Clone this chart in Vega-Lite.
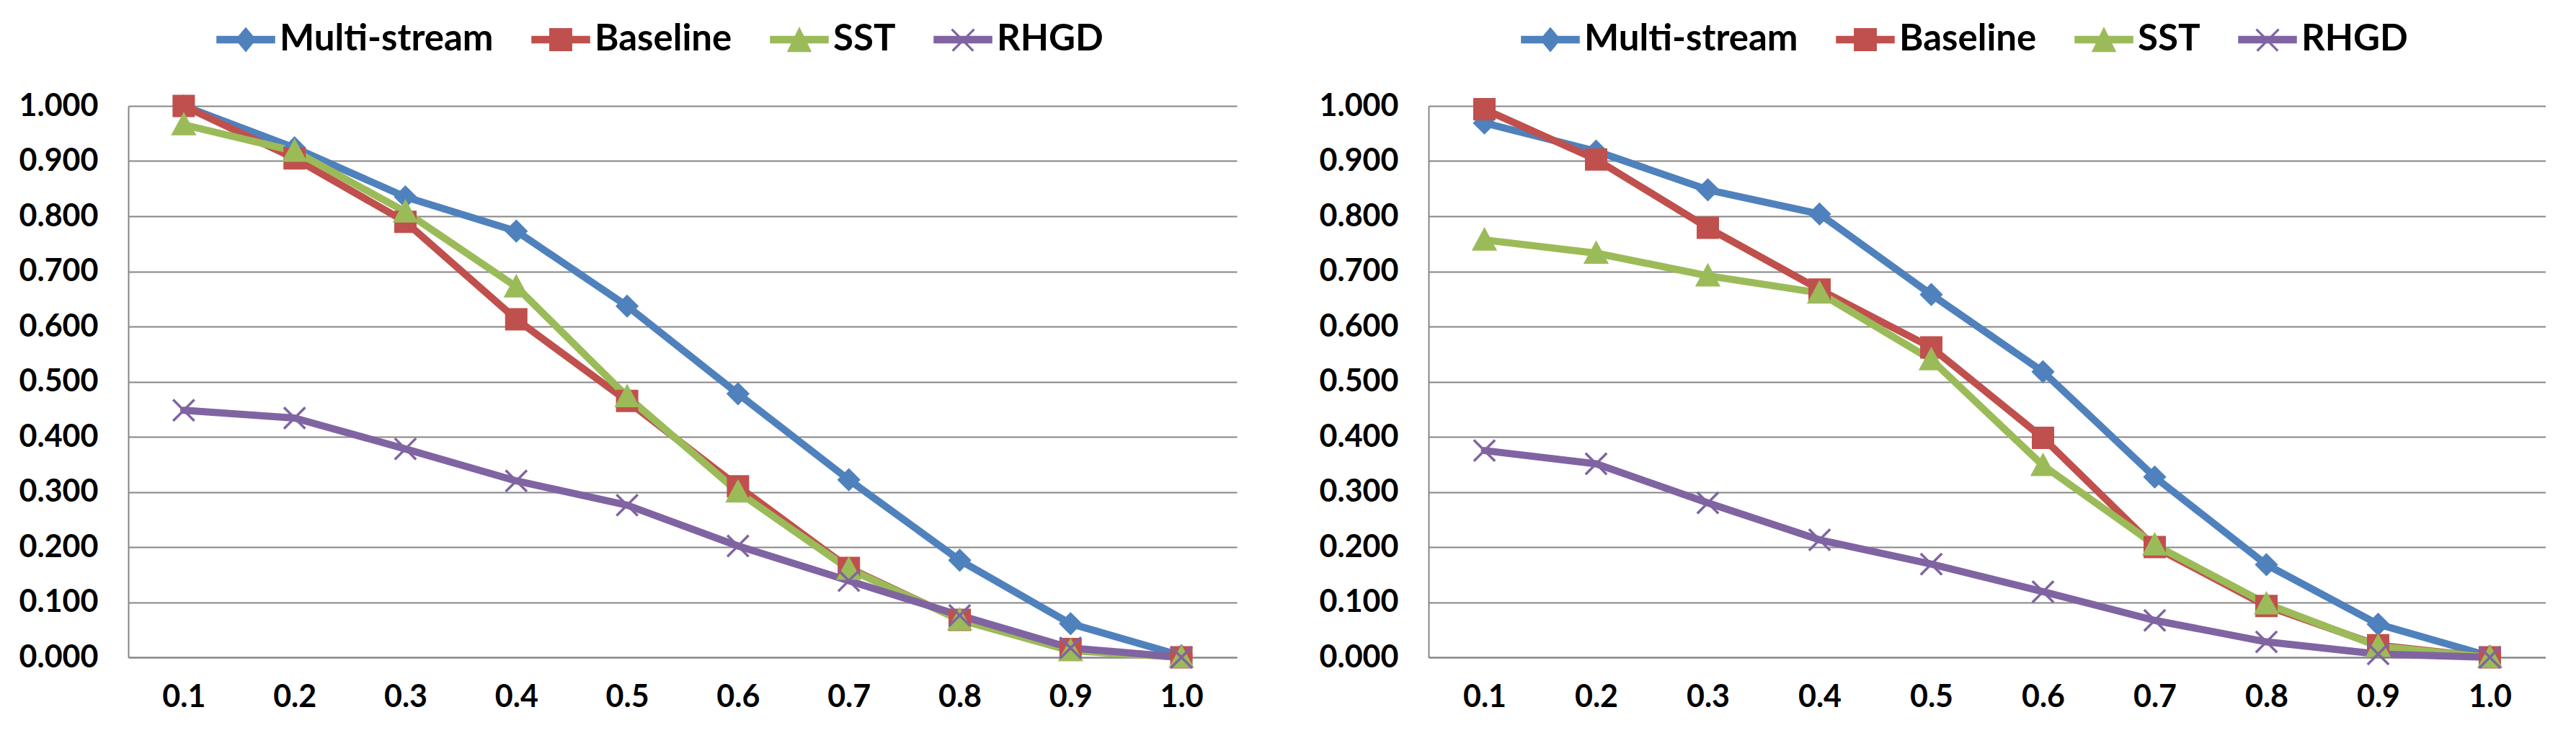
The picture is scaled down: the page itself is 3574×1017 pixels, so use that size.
{
  "$schema": "https://vega.github.io/schema/vega-lite/v6.json",
  "background": "white",
  "padding": {"left": 26, "top": 14, "right": 0, "bottom": 0},
  "spacing": 114,
  "config": {
    "view": {"stroke": null},
    "font": "Lato",
    "axis": {
      "labelFont": "Lato", "labelFontWeight": "bold", "labelFontSize": 43, "labelColor": "#000000",
      "domainColor": "#868686", "domainWidth": 2, "gridColor": "#868686", "gridWidth": 2, "ticks": false, "title": null
    },
    "legend": {
      "orient": "none", "direction": "horizontal", "title": null,
      "labelFont": "Lato", "labelFontWeight": "bold", "labelFontSize": 51, "labelColor": "#000000",
      "symbolSize": 6400, "labelOffset": 6, "columnPadding": 50, "labelLimit": 600, "symbolStrokeWidth": 1.5
    }
  },
  "resolve": {"legend": {"color": "independent", "shape": "independent"}},
  "data": {"values": [
    {"panel": "A", "series": "Multi-stream", "x": "0.1", "y": 1.000},
    {"panel": "A", "series": "Multi-stream", "x": "0.2", "y": 0.924},
    {"panel": "A", "series": "Multi-stream", "x": "0.3", "y": 0.835},
    {"panel": "A", "series": "Multi-stream", "x": "0.4", "y": 0.773},
    {"panel": "A", "series": "Multi-stream", "x": "0.5", "y": 0.637},
    {"panel": "A", "series": "Multi-stream", "x": "0.6", "y": 0.478},
    {"panel": "A", "series": "Multi-stream", "x": "0.7", "y": 0.322},
    {"panel": "A", "series": "Multi-stream", "x": "0.8", "y": 0.176},
    {"panel": "A", "series": "Multi-stream", "x": "0.9", "y": 0.061},
    {"panel": "A", "series": "Multi-stream", "x": "1.0", "y": 0.003},
    {"panel": "A", "series": "Baseline", "x": "0.1", "y": 1.000},
    {"panel": "A", "series": "Baseline", "x": "0.2", "y": 0.905},
    {"panel": "A", "series": "Baseline", "x": "0.3", "y": 0.790},
    {"panel": "A", "series": "Baseline", "x": "0.4", "y": 0.613},
    {"panel": "A", "series": "Baseline", "x": "0.5", "y": 0.465},
    {"panel": "A", "series": "Baseline", "x": "0.6", "y": 0.310},
    {"panel": "A", "series": "Baseline", "x": "0.7", "y": 0.162},
    {"panel": "A", "series": "Baseline", "x": "0.8", "y": 0.068},
    {"panel": "A", "series": "Baseline", "x": "0.9", "y": 0.015},
    {"panel": "A", "series": "Baseline", "x": "1.0", "y": 0.000},
    {"panel": "A", "series": "SST", "x": "0.1", "y": 0.966},
    {"panel": "A", "series": "SST", "x": "0.2", "y": 0.918},
    {"panel": "A", "series": "SST", "x": "0.3", "y": 0.808},
    {"panel": "A", "series": "SST", "x": "0.4", "y": 0.672},
    {"panel": "A", "series": "SST", "x": "0.5", "y": 0.473},
    {"panel": "A", "series": "SST", "x": "0.6", "y": 0.300},
    {"panel": "A", "series": "SST", "x": "0.7", "y": 0.160},
    {"panel": "A", "series": "SST", "x": "0.8", "y": 0.068},
    {"panel": "A", "series": "SST", "x": "0.9", "y": 0.012},
    {"panel": "A", "series": "SST", "x": "1.0", "y": 0.000},
    {"panel": "A", "series": "RHGD", "x": "0.1", "y": 0.448},
    {"panel": "A", "series": "RHGD", "x": "0.2", "y": 0.434},
    {"panel": "A", "series": "RHGD", "x": "0.3", "y": 0.378},
    {"panel": "A", "series": "RHGD", "x": "0.4", "y": 0.320},
    {"panel": "A", "series": "RHGD", "x": "0.5", "y": 0.276},
    {"panel": "A", "series": "RHGD", "x": "0.6", "y": 0.202},
    {"panel": "A", "series": "RHGD", "x": "0.7", "y": 0.139},
    {"panel": "A", "series": "RHGD", "x": "0.8", "y": 0.076},
    {"panel": "A", "series": "RHGD", "x": "0.9", "y": 0.017},
    {"panel": "A", "series": "RHGD", "x": "1.0", "y": 0.000},
    {"panel": "B", "series": "Multi-stream", "x": "0.1", "y": 0.969},
    {"panel": "B", "series": "Multi-stream", "x": "0.2", "y": 0.918},
    {"panel": "B", "series": "Multi-stream", "x": "0.3", "y": 0.848},
    {"panel": "B", "series": "Multi-stream", "x": "0.4", "y": 0.804},
    {"panel": "B", "series": "Multi-stream", "x": "0.5", "y": 0.658},
    {"panel": "B", "series": "Multi-stream", "x": "0.6", "y": 0.518},
    {"panel": "B", "series": "Multi-stream", "x": "0.7", "y": 0.327},
    {"panel": "B", "series": "Multi-stream", "x": "0.8", "y": 0.168},
    {"panel": "B", "series": "Multi-stream", "x": "0.9", "y": 0.060},
    {"panel": "B", "series": "Multi-stream", "x": "1.0", "y": 0.002},
    {"panel": "B", "series": "Baseline", "x": "0.1", "y": 0.994},
    {"panel": "B", "series": "Baseline", "x": "0.2", "y": 0.903},
    {"panel": "B", "series": "Baseline", "x": "0.3", "y": 0.779},
    {"panel": "B", "series": "Baseline", "x": "0.4", "y": 0.667},
    {"panel": "B", "series": "Baseline", "x": "0.5", "y": 0.562},
    {"panel": "B", "series": "Baseline", "x": "0.6", "y": 0.398},
    {"panel": "B", "series": "Baseline", "x": "0.7", "y": 0.200},
    {"panel": "B", "series": "Baseline", "x": "0.8", "y": 0.093},
    {"panel": "B", "series": "Baseline", "x": "0.9", "y": 0.022},
    {"panel": "B", "series": "Baseline", "x": "1.0", "y": 0.000},
    {"panel": "B", "series": "SST", "x": "0.1", "y": 0.757},
    {"panel": "B", "series": "SST", "x": "0.2", "y": 0.733},
    {"panel": "B", "series": "SST", "x": "0.3", "y": 0.692},
    {"panel": "B", "series": "SST", "x": "0.4", "y": 0.661},
    {"panel": "B", "series": "SST", "x": "0.5", "y": 0.540},
    {"panel": "B", "series": "SST", "x": "0.6", "y": 0.348},
    {"panel": "B", "series": "SST", "x": "0.7", "y": 0.204},
    {"panel": "B", "series": "SST", "x": "0.8", "y": 0.097},
    {"panel": "B", "series": "SST", "x": "0.9", "y": 0.020},
    {"panel": "B", "series": "SST", "x": "1.0", "y": 0.000},
    {"panel": "B", "series": "RHGD", "x": "0.1", "y": 0.375},
    {"panel": "B", "series": "RHGD", "x": "0.2", "y": 0.351},
    {"panel": "B", "series": "RHGD", "x": "0.3", "y": 0.280},
    {"panel": "B", "series": "RHGD", "x": "0.4", "y": 0.213},
    {"panel": "B", "series": "RHGD", "x": "0.5", "y": 0.169},
    {"panel": "B", "series": "RHGD", "x": "0.6", "y": 0.119},
    {"panel": "B", "series": "RHGD", "x": "0.7", "y": 0.067},
    {"panel": "B", "series": "RHGD", "x": "0.8", "y": 0.028},
    {"panel": "B", "series": "RHGD", "x": "0.9", "y": 0.006},
    {"panel": "B", "series": "RHGD", "x": "1.0", "y": 0.000}
  ]},
  "hconcat": [
    {
      "width": 1538, "height": 765,
      "transform": [{"filter": "datum.panel === 'A'"}],
      "encoding": {
        "x": {"field": "x", "type": "ordinal", "sort": null, "scale": {"type": "point", "padding": 0.5},
              "axis": {"labelAngle": 0, "labelPadding": 34, "domain": true, "grid": false}},
        "y": {"field": "y", "type": "quantitative", "scale": {"domain": [0, 1], "nice": false},
              "axis": {"values": [0, 0.1, 0.2, 0.3, 0.4, 0.5, 0.6, 0.7, 0.8, 0.9, 1.0], "format": ".3f", "labelPadding": 42, "minExtent": 148, "maxExtent": 148, "grid": true}}
      },
      "layer": [
        {"transform": [{"filter": "false"}],
         "mark": {"type": "point", "filled": true, "opacity": 1},
         "encoding": {
           "color": {"field": "series", "type": "nominal", "sort": null,
                     "scale": {"domain": ["Multi-stream", "Baseline", "SST", "RHGD"], "range": ["#4F81BD", "#C0504D", "#9BBB59", "#8064A2"]},
                     "legend": {"legendX": 122, "legendY": -133}},
           "shape": {"field": "series", "type": "nominal", "sort": null,
                     "scale": {"domain": ["Multi-stream", "Baseline", "SST", "RHGD"], "range": ["M-1,-0.11H1V0.11H-1Z M-0.34,0L0,-0.41L0.34,0L0,0.41Z", "M-1,-0.11H1V0.11H-1Z M-0.38,-0.38H0.38V0.38H-0.38Z", "M-1,-0.11H1V0.11H-1Z M0,-0.41L0.4,0.41L-0.4,0.41Z", "M-1,-0.11H1V0.11H-1Z M-0.36,-0.36L0.36,0.36L0.33,0.39L-0.39,-0.33Z M-0.36,0.36L0.36,-0.36L0.39,-0.33L-0.33,0.39Z"]},
                     "legend": {"legendX": 122, "legendY": -133}}
         }},
        {"mark": {"type": "line", "strokeWidth": 10, "strokeJoin": "round", "strokeCap": "round"},
         "encoding": {
           "color": {"field": "series", "type": "nominal", "sort": null,
                     "scale": {"domain": ["Multi-stream", "Baseline", "SST", "RHGD"], "range": ["#4F81BD", "#C0504D", "#9BBB59", "#8064A2"]},
                     "legend": {"legendX": 122, "legendY": -133}}
         }},
        {"transform": [{"filter": "datum.series === 'Multi-stream'"}],
         "mark": {"type": "point", "filled": true, "size": 784, "strokeWidth": 3, "opacity": 1, "color": "#4F81BD", "stroke": "#4F81BD", "shape": "M0,-1L1,0L0,1L-1,0Z"}},
        {"transform": [{"filter": "datum.series === 'Baseline'"}],
         "mark": {"type": "point", "filled": true, "size": 784, "strokeWidth": 3, "opacity": 1, "color": "#C0504D", "stroke": "#C0504D", "shape": "M-1,-1H1V1H-1Z"}},
        {"transform": [{"filter": "datum.series === 'SST'"}],
         "mark": {"type": "point", "filled": true, "size": 784, "strokeWidth": 3, "opacity": 1, "color": "#9BBB59", "stroke": "#9BBB59", "shape": "M0,-1.05L1.08,0.95L-1.08,0.95Z"}},
        {"transform": [{"filter": "datum.series === 'RHGD'"}],
         "mark": {"type": "point", "filled": false, "size": 784, "strokeWidth": 3.5, "opacity": 1, "color": "#8064A2", "stroke": "#8064A2", "shape": "M-1.05,-1.05L1.05,1.05M-1.05,1.05L1.05,-1.05"}}
      ]
    },
    {
      "width": 1550, "height": 765,
      "transform": [{"filter": "datum.panel === 'B'"}],
      "encoding": {
        "x": {"field": "x", "type": "ordinal", "sort": null, "scale": {"type": "point", "padding": 0.5},
              "axis": {"labelAngle": 0, "labelPadding": 34, "domain": true, "grid": false}},
        "y": {"field": "y", "type": "quantitative", "scale": {"domain": [0, 1], "nice": false},
              "axis": {"values": [0, 0.1, 0.2, 0.3, 0.4, 0.5, 0.6, 0.7, 0.8, 0.9, 1.0], "format": ".3f", "labelPadding": 42, "minExtent": 148, "maxExtent": 148, "grid": true}}
      },
      "layer": [
        {"transform": [{"filter": "false"}],
         "mark": {"type": "point", "filled": true, "opacity": 1},
         "encoding": {
           "color": {"field": "series", "type": "nominal", "sort": null,
                     "scale": {"domain": ["Multi-stream", "Baseline", "SST", "RHGD"], "range": ["#4F81BD", "#C0504D", "#9BBB59", "#8064A2"]},
                     "legend": {"legendX": 128, "legendY": -133}},
           "shape": {"field": "series", "type": "nominal", "sort": null,
                     "scale": {"domain": ["Multi-stream", "Baseline", "SST", "RHGD"], "range": ["M-1,-0.11H1V0.11H-1Z M-0.34,0L0,-0.41L0.34,0L0,0.41Z", "M-1,-0.11H1V0.11H-1Z M-0.38,-0.38H0.38V0.38H-0.38Z", "M-1,-0.11H1V0.11H-1Z M0,-0.41L0.4,0.41L-0.4,0.41Z", "M-1,-0.11H1V0.11H-1Z M-0.36,-0.36L0.36,0.36L0.33,0.39L-0.39,-0.33Z M-0.36,0.36L0.36,-0.36L0.39,-0.33L-0.33,0.39Z"]},
                     "legend": {"legendX": 128, "legendY": -133}}
         }},
        {"mark": {"type": "line", "strokeWidth": 10, "strokeJoin": "round", "strokeCap": "round"},
         "encoding": {
           "color": {"field": "series", "type": "nominal", "sort": null,
                     "scale": {"domain": ["Multi-stream", "Baseline", "SST", "RHGD"], "range": ["#4F81BD", "#C0504D", "#9BBB59", "#8064A2"]},
                     "legend": {"legendX": 128, "legendY": -133}}
         }},
        {"transform": [{"filter": "datum.series === 'Multi-stream'"}],
         "mark": {"type": "point", "filled": true, "size": 784, "strokeWidth": 3, "opacity": 1, "color": "#4F81BD", "stroke": "#4F81BD", "shape": "M0,-1L1,0L0,1L-1,0Z"}},
        {"transform": [{"filter": "datum.series === 'Baseline'"}],
         "mark": {"type": "point", "filled": true, "size": 784, "strokeWidth": 3, "opacity": 1, "color": "#C0504D", "stroke": "#C0504D", "shape": "M-1,-1H1V1H-1Z"}},
        {"transform": [{"filter": "datum.series === 'SST'"}],
         "mark": {"type": "point", "filled": true, "size": 784, "strokeWidth": 3, "opacity": 1, "color": "#9BBB59", "stroke": "#9BBB59", "shape": "M0,-1.05L1.08,0.95L-1.08,0.95Z"}},
        {"transform": [{"filter": "datum.series === 'RHGD'"}],
         "mark": {"type": "point", "filled": false, "size": 784, "strokeWidth": 3.5, "opacity": 1, "color": "#8064A2", "stroke": "#8064A2", "shape": "M-1.05,-1.05L1.05,1.05M-1.05,1.05L1.05,-1.05"}}
      ]
    }
  ]
}
